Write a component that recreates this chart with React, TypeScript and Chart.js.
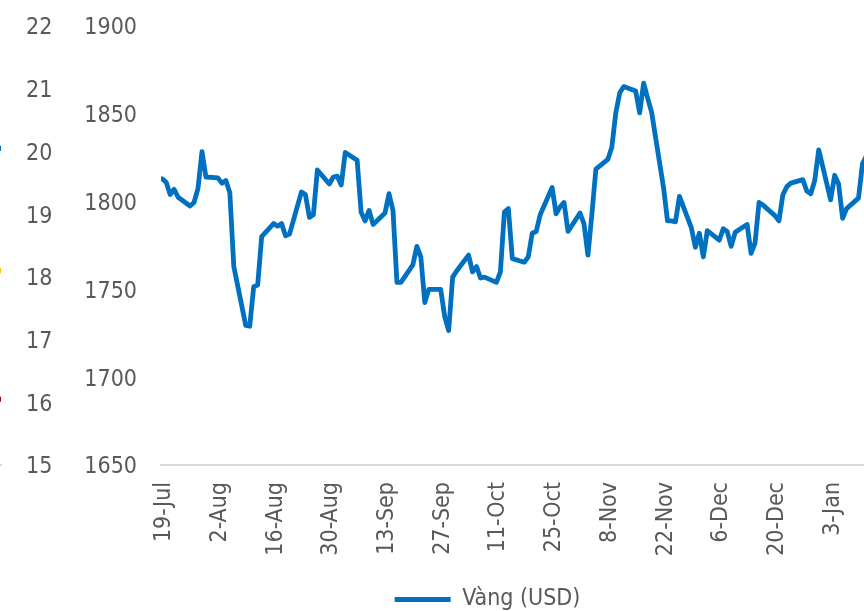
import { useEffect, useRef } from 'react';
import { Chart, registerables } from 'chart.js';

Chart.register(...registerables);

// ---------- data ----------
const tradeDates = [
  '2021-07-19', '2021-07-20', '2021-07-21', '2021-07-22', '2021-07-23',
  '2021-07-26', '2021-07-27', '2021-07-28', '2021-07-29', '2021-07-30',
  '2021-08-02', '2021-08-03', '2021-08-04', '2021-08-05', '2021-08-06',
  '2021-08-09', '2021-08-10', '2021-08-11', '2021-08-12', '2021-08-13',
  '2021-08-16', '2021-08-17', '2021-08-18', '2021-08-19', '2021-08-20',
  '2021-08-23', '2021-08-24', '2021-08-25', '2021-08-26', '2021-08-27',
  '2021-08-30', '2021-08-31', '2021-09-01', '2021-09-02', '2021-09-03',
  '2021-09-06', '2021-09-07', '2021-09-08', '2021-09-09', '2021-09-10',
  '2021-09-13', '2021-09-14', '2021-09-15', '2021-09-16', '2021-09-17',
  '2021-09-20', '2021-09-21', '2021-09-22', '2021-09-23', '2021-09-24',
  '2021-09-27', '2021-09-28', '2021-09-29', '2021-09-30', '2021-10-01',
  '2021-10-04', '2021-10-05', '2021-10-06', '2021-10-07', '2021-10-08',
  '2021-10-11', '2021-10-12', '2021-10-13', '2021-10-14', '2021-10-15',
  '2021-10-18', '2021-10-19', '2021-10-20', '2021-10-21', '2021-10-22',
  '2021-10-25', '2021-10-26', '2021-10-27', '2021-10-28', '2021-10-29',
  '2021-11-01', '2021-11-02', '2021-11-03', '2021-11-04', '2021-11-05',
  '2021-11-08', '2021-11-09', '2021-11-10', '2021-11-11', '2021-11-12',
  '2021-11-15', '2021-11-16', '2021-11-17', '2021-11-18', '2021-11-19',
  '2021-11-22', '2021-11-23', '2021-11-24', '2021-11-25', '2021-11-26',
  '2021-11-29', '2021-11-30', '2021-12-01', '2021-12-02', '2021-12-03',
  '2021-12-06', '2021-12-07', '2021-12-08', '2021-12-09', '2021-12-10',
  '2021-12-13', '2021-12-14', '2021-12-15', '2021-12-16', '2021-12-17',
  '2021-12-20', '2021-12-21', '2021-12-22', '2021-12-23', '2021-12-24',
  '2021-12-27', '2021-12-28', '2021-12-29', '2021-12-30', '2021-12-31',
  '2022-01-03', '2022-01-04', '2022-01-05', '2022-01-06', '2022-01-07',
  '2022-01-10', '2022-01-11', '2022-01-12',
];

const goldUsd = [
  1813, 1811, 1804, 1807, 1802.5,
  1797.5, 1799.5, 1807.5, 1828.5, 1814,
  1813.5, 1810.5, 1812, 1805, 1763,
  1729.5, 1729, 1751.5, 1752.5, 1780,
  1787.5, 1786, 1787.5, 1780.5, 1781.5,
  1805.5, 1804, 1791, 1792.5, 1818,
  1810, 1814, 1814.5, 1809.5, 1828,
  1823.5, 1794, 1789, 1795, 1787,
  1793.5, 1804.5, 1795, 1754, 1754,
  1764, 1774.5, 1768.5, 1742.5, 1750,
  1750, 1734.5, 1726.5, 1757, 1760.5,
  1769.5, 1760, 1763, 1756.5, 1757,
  1754, 1760, 1794, 1796, 1767.5,
  1765.5, 1768.5, 1782, 1783, 1792.5,
  1808, 1793, 1797, 1799.5, 1783,
  1793.5, 1787.5, 1769.5, 1793, 1818.5,
  1824, 1831, 1850.5, 1862, 1865.5,
  1863, 1850.5, 1867.5, 1859, 1851,
  1808, 1789, 1789, 1788.5, 1803,
  1785, 1774, 1782, 1768.5, 1783.5,
  1778, 1784.5, 1783, 1774.5, 1782.5,
  1787, 1770.5, 1776.5, 1799.5, 1798,
  1792, 1789, 1804, 1808.5, 1810.5,
  1812.5, 1806, 1804.5, 1812, 1829.5,
  1801, 1815, 1810, 1790.5, 1796,
  1802, 1821.5, 1826,
];

const tickDates = [
  '2021-07-19', '2021-08-02', '2021-08-16', '2021-08-30', '2021-09-13',
  '2021-09-27', '2021-10-11', '2021-10-25', '2021-11-08', '2021-11-22',
  '2021-12-06', '2021-12-20', '2022-01-03',
];
const tickLabels = [
  '19-Jul', '2-Aug', '16-Aug', '30-Aug', '13-Sep',
  '27-Sep', '11-Oct', '25-Oct', '8-Nov', '22-Nov',
  '6-Dec', '20-Dec', '3-Jan',
];

const seriesLabel = 'Vàng (USD)';

// remnants of the neighbouring chart (cut at the left edge)
const sideEndValues = [20.05, 18.1, 16.05];
const sideColors = ['#0070C0', '#FFC000', '#C00000'];

// ---------- style ----------
const FONT = "'DejaVu Sans Condensed', 'Liberation Sans', sans-serif";
const TEXT = '#595959';
const BLUE = '#0070C0';
const AXIS = '#d9d9d9';

const DAY = 86400000;
const dayOf = (s: string) => (Date.parse(s) - Date.parse(tradeDates[0])) / DAY;

const noPad = (s: any) => {
  s.paddingTop = 0;
  s.paddingBottom = 0;
};

export default function App() {
  const mainRef = useRef<HTMLCanvasElement>(null);
  const sideRef = useRef<HTMLCanvasElement>(null);

  useEffect(() => {
    const tickFont = { family: FONT, size: 23 };

    const side = new Chart(sideRef.current!, {
      type: 'scatter',
      data: {
        datasets: sideEndValues.map((v, i) => ({
          label: 'series' + i,
          data: [{ x: 1, y: v }],
          pointRadius: 2.6,
          pointBackgroundColor: sideColors[i],
          pointBorderWidth: 0,
          backgroundColor: sideColors[i],
        })),
      },
      options: {
        animation: false,
        responsive: false,
        maintainAspectRatio: false,
        layout: { padding: { top: 26, left: 0, right: 0, bottom: 0 } },
        plugins: { legend: { display: false }, tooltip: { enabled: false } },
        scales: {
          x: {
            type: 'linear',
            min: 0,
            max: 1,
            afterFit: (s: any) => { s.height = 146; },
            ticks: { display: false },
            grid: { display: false, drawTicks: false },
            border: { display: true, color: AXIS, width: 2 },
          },
          y: {
            position: 'right',
            min: 15,
            max: 22,
            afterFit: (s: any) => { s.width = 60; noPad(s); },
            ticks: {
              stepSize: 1,
              padding: 25,
              labelOffset: 2.5,
              color: TEXT,
              font: tickFont,
              callback: (v: any) => String(v),
            },
            grid: { display: false, drawTicks: false },
            border: { display: false },
          },
        },
      },
    } as any);

    const main = new Chart(mainRef.current!, {
      type: 'line',
      data: {
        datasets: [
          {
            label: seriesLabel,
            data: tradeDates.map((d, i) => ({ x: dayOf(d), y: goldUsd[i] })),
            borderColor: BLUE,
            backgroundColor: BLUE,
            borderWidth: 4.8,
            borderCapStyle: 'round',
            borderJoinStyle: 'round',
            pointRadius: 0,
            tension: 0,
          },
        ],
      },
      options: {
        animation: false,
        responsive: false,
        maintainAspectRatio: false,
        layout: { padding: { top: 26, left: 0, right: 0, bottom: 0 } },
        plugins: {
          legend: {
            position: 'bottom',
            maxHeight: 31,
            labels: {
              usePointStyle: true,
              pointStyle: 'line',
              pointStyleWidth: 56,
              padding: 8,
              color: TEXT,
              font: { family: FONT, size: 23 },
            },
          },
          tooltip: { enabled: false },
        },
        scales: {
          x: {
            type: 'linear',
            min: -0.3,
            max: 189.2,
            afterBuildTicks: (s: any) => {
              s.ticks = tickDates.map((d) => ({ value: dayOf(d) }));
            },
            afterFit: (s: any) => {
              s.height = 115;
              s.paddingRight = 0;
            },
            ticks: {
              autoSkip: false,
              maxRotation: 90,
              minRotation: 90,
              padding: 17,
              labelOffset: 2,
              color: TEXT,
              font: tickFont,
              callback: (v: any) => {
                const i = tickDates.findIndex((d) => dayOf(d) === v);
                return i >= 0 ? tickLabels[i] : '';
              },
            },
            grid: { display: false, drawTicks: false },
            border: { display: true, color: AXIS, width: 2 },
          },
          y: {
            min: 1650,
            max: 1900,
            afterFit: (s: any) => { s.width = 101; noPad(s); },
            ticks: {
              stepSize: 50,
              padding: 24,
              labelOffset: 2.5,
              color: TEXT,
              font: tickFont,
              callback: (v: any) => String(v),
            },
            grid: { display: false, drawTicks: false },
            border: { display: false },
          },
        },
      },
    } as any);

    return () => {
      main.destroy();
      side.destroy();
    };
  }, []);

  return (
    <div
      style={{
        position: 'absolute',
        left: 0,
        top: 0,
        width: 864,
        height: 611,
        overflow: 'hidden',
        background: '#ffffff',
      }}
    >
      <canvas
        ref={sideRef}
        width={261}
        height={611}
        style={{ position: 'absolute', left: -200, top: 0, width: 261, height: 611 }}
      />
      <canvas
        ref={mainRef}
        width={855}
        height={611}
        style={{ position: 'absolute', left: 60, top: 0, width: 855, height: 611 }}
      />
    </div>
  );
}
